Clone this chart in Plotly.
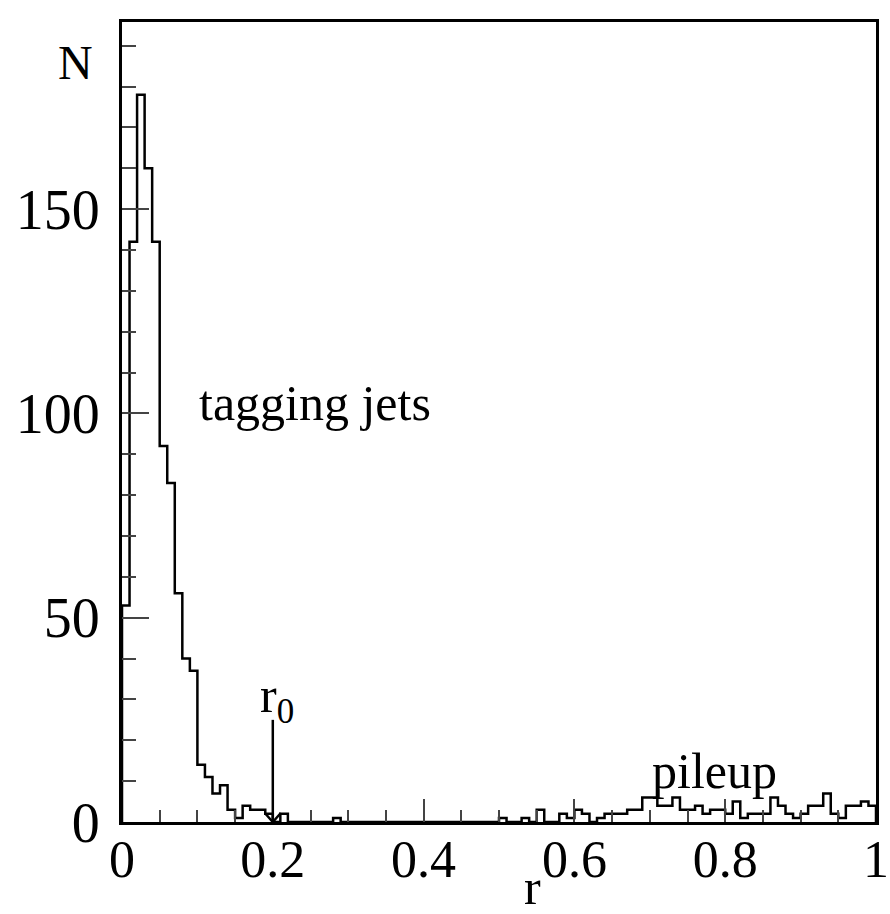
import numpy as np
import plotly.graph_objects as go

# ---- data (histogram of r, 100 bins on [0, 1]) ----
n_bins = 100
r_min, r_max = 0.0, 1.0
counts = [
    53, 142, 178, 160, 142, 92, 83, 56, 40, 37,      # 0.00-0.10
    14, 11, 7, 9, 3, 1, 4, 3, 3, 2,                  # 0.10-0.20
    0, 2, 0, 0, 0, 0, 0, 0, 1, 0,                    # 0.20-0.30
    0, 0, 0, 0, 0, 0, 0, 0, 0, 0,                    # 0.30-0.40
    0, 0, 0, 0, 0, 0, 0, 0, 0, 0,                    # 0.40-0.50
    1, 0, 0, 1, 0, 3, 0, 0, 2, 1,                    # 0.50-0.60
    3, 2, 0, 1, 2, 2, 2, 3, 3, 6,                    # 0.60-0.70
    6, 4, 4, 6, 3, 3, 4, 2, 3, 3,                    # 0.70-0.80
    2, 5, 1, 2, 2, 2, 6, 4, 2, 1,                    # 0.80-0.90
    2, 4, 4, 7, 2, 1, 4, 4, 5, 4,                    # 0.90-1.00
]
x_tickvals = [0, 0.2, 0.4, 0.6, 0.8, 1]
x_ticktext = ["0", "0.2", "0.4", "0.6", "0.8", "1"]
y_tickvals = [0, 50, 100, 150]
y_ticktext = ["0", "50", "100", "150"]
y_max = 1.1 * max(counts)
r0 = 0.2
r0_arrow_top = 25

FONT = "Liberation Serif"

edges = np.linspace(r_min, r_max, n_bins + 1)
# step outline of the histogram
xs_step = [edges[0], edges[0]]
ys_step = [0, counts[0]]
for i in range(n_bins):
    xs_step += [edges[i], edges[i + 1]]
    ys_step += [counts[i], counts[i]]
xs_step += [edges[-1]]
ys_step += [0]

fig = go.Figure()
fig.add_trace(go.Scatter(x=xs_step, y=ys_step, mode="lines",
                         line=dict(color="black", width=2.5),
                         hoverinfo="skip", showlegend=False))

# r0 arrow
fig.add_shape(type="line", x0=r0, x1=r0, y0=0, y1=r0_arrow_top,
              line=dict(color="black", width=2.5))
fig.add_shape(type="path", xsizemode="pixel", ysizemode="pixel",
              xanchor=r0, yanchor=0,
              path="M -8,9 L 0,0 L 8,9",
              line=dict(color="black", width=2.5))

axis_common = dict(showline=True, linecolor="black", linewidth=3, mirror=True,
                   showgrid=False, zeroline=False, ticks="inside",
                   tickcolor="#444", tickwidth=1.5, automargin=False,
                   ticklabeloverflow="allow")

fig.update_xaxes(range=[r_min, r_max], tickvals=x_tickvals, ticktext=x_ticktext,
                 ticklen=23, ticklabelstandoff=-10,
                 tickfont=dict(family=FONT, size=52, color="black"),
                 minor=dict(dtick=0.05, ticklen=12, ticks="inside",
                            tickcolor="#444", tickwidth=1.5),
                 **axis_common)
fig.update_yaxes(range=[0, y_max], tickvals=y_tickvals, ticktext=y_ticktext,
                 ticklen=27, ticklabelstandoff=8,
                 tickfont=dict(family=FONT, size=56, color="black"),
                 minor=dict(dtick=10, ticklen=14, ticks="inside",
                            tickcolor="#444", tickwidth=1.5),
                 **axis_common)

annots = [
    dict(text="tagging jets", x=0.1, y=102.5, xanchor="left", yanchor="middle"),
    dict(text="pileup", x=0.70, y=12.5, xanchor="left", yanchor="middle"),
    dict(text="r<sub>0</sub>", x=0.18, y=30, xanchor="left", yanchor="middle"),
]
for a in annots:
    fig.add_annotation(xref="x", yref="y", showarrow=False,
                       font=dict(family=FONT, size=50, color="black"), **a)

fig.add_annotation(text="N", xref="paper", yref="paper", x=-0.036, y=0.95,
                   xanchor="right", yanchor="middle", showarrow=False,
                   font=dict(family=FONT, size=48, color="black"))
fig.add_annotation(text="r", xref="paper", yref="paper", x=0.545, y=-0.081,
                   xanchor="center", yanchor="middle", showarrow=False,
                   font=dict(family=FONT, size=50, color="black"))

fig.update_layout(width=890, height=914,
                  margin=dict(l=122, r=14, t=22, b=92),
                  paper_bgcolor="white", plot_bgcolor="white",
                  showlegend=False)

fig.write_html("out.html")
